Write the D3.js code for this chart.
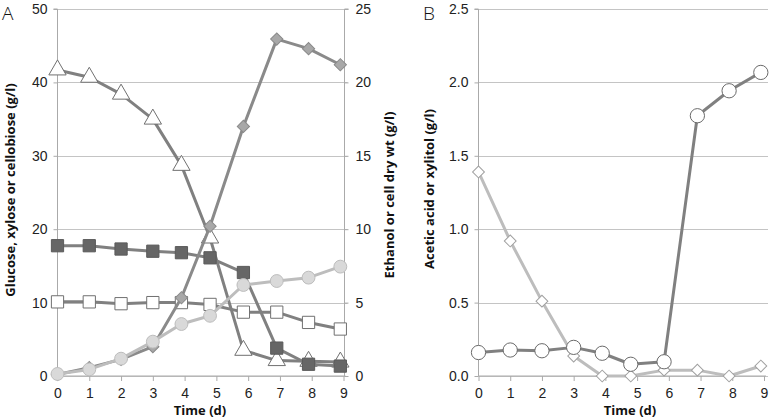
<!DOCTYPE html>
<html><head><meta charset="utf-8">
<script src="https://cdn.jsdelivr.net/npm/d3@7"></script>
<style>body{margin:0;background:#fff}svg{font-family:"Open Sans",sans-serif}</style>
</head><body><svg id="c" width="770" height="420"></svg>
<script>
const days = [0, 1, 2, 3, 3.9, 4.8, 5.85, 6.9, 7.9, 8.9];
const xTicks = [0,1,2,3,4,5,6,7,8,9];
// Panel A, left axis (g/l)
const triangles = [41.7, 40.7, 38.4, 35.0, 28.7, 18.8, 3.5, 2.1, 2.0, 1.9];
const darkSquares = [17.75, 17.75, 17.3, 17.0, 16.8, 16.1, 14.1, 3.8, 1.6, 1.35];
const whiteSquares = [10.1, 10.1, 9.85, 10.0, 10.0, 9.75, 8.7, 8.7, 7.3, 6.4];
// Panel A, right axis (g/l)
const diamondsA = [0.1, 0.57, 1.13, 2.0, 5.33, 10.2, 17.0, 22.95, 22.3, 21.2];
const circlesA = [0.14, 0.45, 1.18, 2.34, 3.54, 4.1, 6.2, 6.47, 6.7, 7.45];
// Panel B (g/l)
const circlesB = [0.16, 0.177, 0.172, 0.195, 0.155, 0.08, 0.097, 1.773, 1.943, 2.068];
const diamondsB = [1.39, 0.92, 0.51, 0.136, 0.0, 0.0, 0.04, 0.04, 0.0, 0.068];
const leftTicksA = [0,10,20,30,40,50];
const rightTicksA = [0,5,10,15,20,25];
const ticksB = [0,0.5,1.0,1.5,2.0,2.5];

const svg = d3.select("#c");
const yTop = 9, yBot = 376;
const xA = d3.scaleLinear().domain([0,9]).range([57.5,343.5]);
const xB = d3.scaleLinear().domain([0,9]).range([478.5,764]);
const yL = d3.scaleLinear().domain([0,50]).range([yBot,yTop]);
const yR = d3.scaleLinear().domain([0,25]).range([yBot,yTop]);
const yB = d3.scaleLinear().domain([0,2.5]).range([yBot,yTop]);

function frame(x, y, ticks, fmt, x0, x1) {
  const g = svg.append("g");
  g.selectAll("line.grid").data(ticks).join("line")
    .attr("x1", x0).attr("x2", x1 + 4)
    .attr("y1", d => Math.round(y(d)) + 0.5).attr("y2", d => Math.round(y(d)) + 0.5)
    .attr("stroke", "#c4c4c4").attr("stroke-width", 1.2);
  const ax = svg.append("g").attr("transform", `translate(${x0},0)`)
    .call(d3.axisLeft(y).tickValues(ticks).tickFormat(fmt).tickSize(4).tickPadding(6));
  ax.select(".domain").attr("stroke", "#aaa").attr("d", `M-4,${yTop}H0V${yBot}`);
  ax.selectAll(".tick line").attr("stroke", "#aaa");
  ax.selectAll("text").attr("font-size", 14).attr("fill", "#222").attr("font-weight", 300);
  const bx = svg.append("g").attr("transform", `translate(0,${yBot})`)
    .call(d3.axisBottom(x).tickValues(xTicks).tickFormat(d3.format("d")).tickSize(5).tickPadding(7));
  bx.select(".domain").attr("stroke", "#aaa").attr("d", `M${x0},0H${x1 + 2}`);
  bx.selectAll(".tick line").attr("stroke", "#aaa");
  bx.selectAll("text").attr("font-size", 14).attr("fill", "#222").attr("font-weight", 300);
  return g;
}

frame(xA, yL, leftTicksA, d3.format("d"), 57.5, 343.5);
const rx = svg.append("g").attr("transform", "translate(344.5,0)")
  .call(d3.axisRight(yR).tickValues(rightTicksA).tickFormat(d3.format("d")).tickSize(4).tickPadding(7));
rx.select(".domain").attr("stroke", "#aaa").attr("d", `M4,${yTop}H0V${yBot}`);
rx.selectAll(".tick line").attr("stroke", "#aaa");
rx.selectAll("text").attr("font-size", 14).attr("fill", "#222").attr("font-weight", 300);

frame(xB, yB, ticksB, d3.format(".1f"), 478.5, 764);

function series(x, y, vals, lineColor, shape, size, fill, stroke, rot) {
  const pts = vals.map((v, i) => [x(days[i]), y(v)]);
  svg.append("path").attr("d", d3.line()(pts)).attr("fill", "none")
    .attr("stroke", lineColor).attr("stroke-width", 3).attr("stroke-linejoin", "round");
  svg.append("g").selectAll("path").data(pts).join("path")
    .attr("transform", d => `translate(${d[0]},${d[1]}) rotate(${rot || 0})`)
    .attr("d", d3.symbol().type(shape).size(size))
    .attr("fill", fill).attr("stroke", stroke).attr("stroke-width", 1);
}

const dark = "#808080", light = "#bdbdbd";
series(xA, yL, triangles, dark, d3.symbolTriangle, 130, "#fff", "#707070");
series(xA, yL, darkSquares, dark, d3.symbolSquare, 150, "#666666", "#5a5a5a");
series(xA, yL, whiteSquares, dark, d3.symbolSquare, 150, "#fff", "#707070");
series(xA, yR, diamondsA, "#8a8a8a", d3.symbolSquare, 75, "#a8a8a8", "#8a8a8a", 45);
series(xA, yR, circlesA, light, d3.symbolCircle, 130, "#d9d9d9", "#bdbdbd");

series(xB, yB, diamondsB, light, d3.symbolSquare, 70, "#fff", "#a0a0a0", 45);
series(xB, yB, circlesB, dark, d3.symbolCircle, 160, "#fff", "#6a6a6a");

function vtitle(x, y, t) {
  svg.append("text").attr("transform", `translate(${x},${y}) rotate(-90)`)
    .attr("text-anchor", "middle").attr("font-size", 13).attr("font-weight", 700)
    .attr("fill", "#111").text(t);
}
vtitle(15, 190, "Glucose, xylose or cellobiose (g/l)");
vtitle(394, 195, "Ethanol or cell dry wt (g/l)");
vtitle(434, 189, "Acetic acid or xylitol (g/l)");
svg.append("text").attr("x", 200).attr("y", 415).attr("text-anchor", "middle")
  .attr("font-size", 13).attr("font-weight", 700).attr("fill", "#111").text("Time (d)");
svg.append("text").attr("x", 630).attr("y", 415).attr("text-anchor", "middle")
  .attr("font-size", 13).attr("font-weight", 700).attr("fill", "#111").text("Time (d)");
svg.append("text").attr("x", 2).attr("y", 20).attr("font-size", 19).attr("font-weight", 300).attr("fill", "#111").text("A");
svg.append("text").attr("x", 423).attr("y", 20).attr("font-size", 19).attr("font-weight", 300).attr("fill", "#111").text("B");
</script></body></html>
